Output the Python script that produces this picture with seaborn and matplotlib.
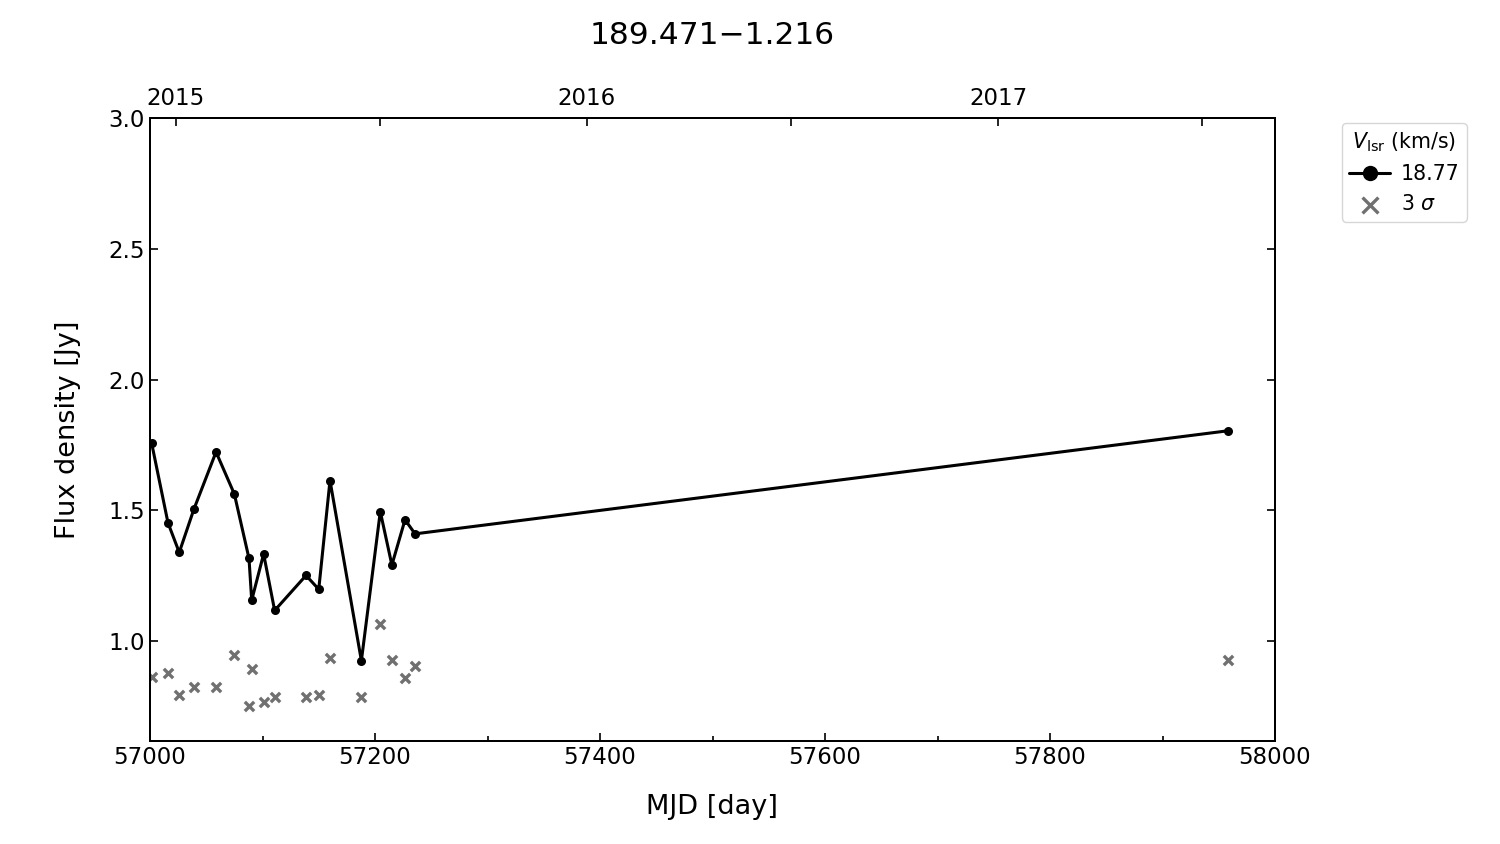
import matplotlib
matplotlib.use('Agg')
import matplotlib.pyplot as plt
import seaborn as sns
import pandas as pd
from matplotlib.ticker import MultipleLocator

mjd = [57001.5, 57016, 57026, 57039, 57058.7, 57075, 57088, 57090.4, 57101, 57110.8,
       57138.7, 57150, 57160, 57187.9, 57204.7, 57215, 57226.7, 57235.6, 57958]
flux = [1.756, 1.452, 1.339, 1.504, 1.723, 1.562, 1.316, 1.156, 1.333, 1.117,
        1.251, 1.198, 1.614, 0.925, 1.495, 1.291, 1.464, 1.410, 1.804]
sigma3 = [0.864, 0.879, 0.792, 0.823, 0.825, 0.948, 0.753, 0.894, 0.768, 0.785,
          0.787, 0.795, 0.935, 0.787, 1.065, 0.927, 0.859, 0.904, 0.927]

year_labels = ['2015', '2016', '2017']
year_mjd = [57023, 57388, 57754]
half_year_mjd = [57204, 57570, 57935]

df = pd.DataFrame({'MJD': mjd, 'flux': flux, 'sigma': sigma3})

sns.set_style('ticks')
plt.rcParams['font.family'] = ['DejaVu Sans']
plt.rcParams['mathtext.fontset'] = 'dejavusans'
for key in ['text.color', 'axes.labelcolor', 'xtick.color', 'ytick.color', 'axes.edgecolor']:
    plt.rcParams[key] = 'black'

fig = plt.figure(figsize=(15, 8.44), dpi=100)
ax = fig.add_axes([0.1, 1 - 741 / 844, 0.75, 623 / 844])

sns.lineplot(data=df, x='MJD', y='flux', ax=ax, color='black', lw=2.2,
             marker='o', markersize=6.5, markeredgewidth=0, estimator=None,
             sort=False, label='18.77')
sns.scatterplot(data=df, x='MJD', y='sigma', ax=ax, color='#707070', marker='x',
                s=45, linewidth=2.4, label=r'3 $\sigma$')

ax.set_xlim(57000, 58000)
ax.set_ylim(0.618, 3.0)
ax.xaxis.set_major_locator(MultipleLocator(200))
ax.xaxis.set_minor_locator(MultipleLocator(100))
ax.yaxis.set_major_locator(MultipleLocator(0.5))
ax.tick_params(which='both', direction='in', right=True, labelsize=16.5, width=1.2)
ax.tick_params(which='major', length=6)
ax.tick_params(which='minor', length=3.5)
ax.tick_params(axis='x', which='both', top=False)
for sp in ax.spines.values():
    sp.set_linewidth(1.4)

ax.set_xlabel('MJD [day]', fontsize=19.5, labelpad=18)
ax.set_ylabel('Flux density [Jy]', fontsize=19.5, labelpad=20)

# calendar years on the top axis
top = ax.twiny()
top.set_xlim(ax.get_xlim())
top.set_xticks(year_mjd)
top.set_xticklabels(year_labels)
top.set_xticks(half_year_mjd, minor=True)
top.tick_params(which='both', direction='in', labelsize=16.5, width=1.2, pad=6)
top.tick_params(which='major', length=6)
top.tick_params(which='minor', length=6)
for sp in top.spines.values():
    sp.set_linewidth(1.4)

leg = ax.legend(title=r'$V_{\rm lsr}$ (km/s)', loc='upper left',
                bbox_to_anchor=(1.0596, 0.992), borderaxespad=0, fontsize=14.8,
                title_fontsize=14.8, markerscale=1.7, frameon=True, fancybox=True,
                handlelength=2.0, handletextpad=0.5, borderpad=0.35)
leg.get_frame().set_edgecolor('#cccccc')

fig.text(0.475, 1 - 36 / 844, '189.471\u22121.216', ha='center', va='center', fontsize=22.5)

fig.savefig('out.png', dpi=100)
